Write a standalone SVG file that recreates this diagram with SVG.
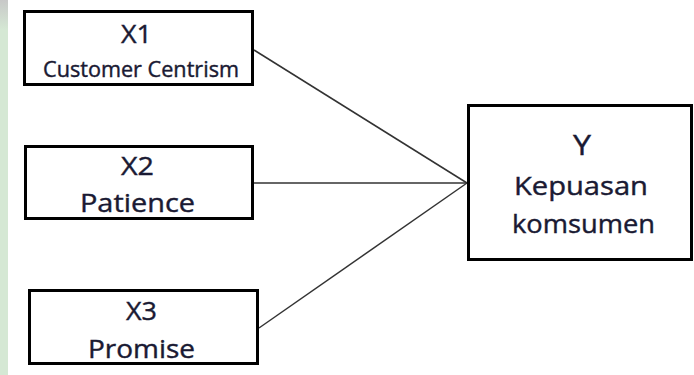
<svg xmlns="http://www.w3.org/2000/svg" width="694" height="375" viewBox="0 0 694 375">
<defs>
<linearGradient id="side" x1="0" y1="0" x2="0" y2="1">
<stop offset="0" stop-color="#c8c8c8"/>
<stop offset="0.08" stop-color="#d5e8d4"/>
<stop offset="1" stop-color="#d5e8d4"/>
</linearGradient>
</defs>
<style>
.box{fill:#fff;stroke:#000;stroke-width:3}
.t{font-family:"Open Sans","Liberation Sans",sans-serif;fill:#1a1a33;stroke:#1a1a33;stroke-width:0.4}
.edge{stroke:#333;stroke-width:1.5;fill:none}
</style>
<rect x="0" y="0" width="694" height="375" fill="#fff"/>
<rect x="0" y="0" width="8" height="375" fill="url(#side)"/>
<g id="connectors">
<line class="edge" x1="254" y1="50" x2="467" y2="183"/>
<line class="edge" x1="254" y1="183" x2="467" y2="183"/>
<line class="edge" x1="259" y1="328" x2="467" y2="183"/>
</g>
<g id="x1">
<rect class="box" x="24.5" y="11.5" width="228" height="73"/>
<text class="t" x="121" y="43" font-size="26" textLength="31" lengthAdjust="spacingAndGlyphs">X1</text>
<text class="t" x="43" y="77" font-size="21" textLength="196" lengthAdjust="spacingAndGlyphs">Customer Centrism</text>
</g>
<g id="x2">
<rect class="box" x="25.5" y="146.5" width="227" height="72"/>
<text class="t" x="121" y="175" font-size="26" textLength="33" lengthAdjust="spacingAndGlyphs">X2</text>
<text class="t" x="80" y="212" font-size="25" textLength="115" lengthAdjust="spacingAndGlyphs">Patience</text>
</g>
<g id="x3">
<rect class="box" x="29.5" y="290.5" width="228" height="73"/>
<text class="t" x="126" y="320" font-size="26" textLength="31" lengthAdjust="spacingAndGlyphs">X3</text>
<text class="t" x="88" y="358" font-size="25" textLength="107" lengthAdjust="spacingAndGlyphs">Promise</text>
</g>
<g id="y">
<rect class="box" x="468.5" y="105.5" width="223" height="154"/>
<text class="t" x="573" y="155" font-size="27" textLength="18" lengthAdjust="spacingAndGlyphs">Y</text>
<text class="t" x="514" y="195" font-size="25" textLength="134" lengthAdjust="spacingAndGlyphs">Kepuasan</text>
<text class="t" x="512" y="233" font-size="25" textLength="143" lengthAdjust="spacingAndGlyphs">komsumen</text>
</g>
</svg>
